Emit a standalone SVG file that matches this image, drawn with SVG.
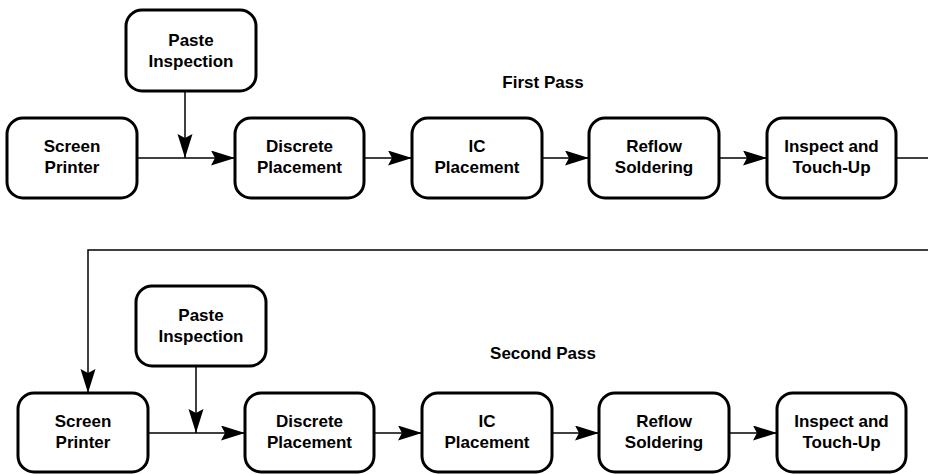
<svg xmlns="http://www.w3.org/2000/svg" width="928" height="474" viewBox="0 0 928 474">
<defs>
<marker id="arr" markerUnits="userSpaceOnUse" markerWidth="24" markerHeight="16" refX="24" refY="7.5" orient="auto">
<path d="M0,0 L24,7.5 L0,15 L4,7.5 z" fill="#000"/>
</marker>
<style>
.box{fill:#fff;stroke:#000;stroke-width:3}
.t{font-family:"Liberation Sans",Arial,Helvetica,sans-serif;font-weight:bold;font-size:17px;text-anchor:middle;fill:#000}
.c{fill:none;stroke:#000;stroke-width:1.5}
.a{marker-end:url(#arr)}
</style>
</defs>
<rect width="928" height="474" fill="#fff"/>
<text class="t" x="543" y="88">First Pass</text>
<text class="t" x="543" y="359">Second Pass</text>
<g id="connectors">
<line class="c a" x1="137" y1="158" x2="235" y2="158"/>
<line class="c a" x1="185" y1="91" x2="185" y2="158"/>
<line class="c a" x1="364" y1="158" x2="412" y2="158"/>
<line class="c a" x1="542" y1="158" x2="589" y2="158"/>
<line class="c a" x1="719" y1="158" x2="767" y2="158"/>
<line class="c" x1="896" y1="158" x2="928" y2="158"/>
<polyline class="c a" points="928,250 88,250 88,393"/>
<line class="c a" x1="148" y1="433" x2="245" y2="433"/>
<line class="c a" x1="196" y1="366" x2="196" y2="433"/>
<line class="c a" x1="374" y1="433" x2="422" y2="433"/>
<line class="c a" x1="552" y1="433" x2="599" y2="433"/>
<line class="c a" x1="729" y1="433" x2="777" y2="433"/>
</g>
<g id="paste1"><rect class="box" x="126" y="10" width="130" height="81" rx="16"/><text class="t" x="191" y="46">Paste</text><text class="t" x="191" y="67">Inspection</text></g>
<g id="screen1"><rect class="box" x="7" y="118" width="130" height="80" rx="16"/><text class="t" x="72" y="152">Screen</text><text class="t" x="72" y="173">Printer</text></g>
<g id="discrete1"><rect class="box" x="235" y="118" width="129" height="80" rx="16"/><text class="t" x="299.5" y="152">Discrete</text><text class="t" x="299.5" y="173">Placement</text></g>
<g id="ic1"><rect class="box" x="412" y="118" width="130" height="80" rx="16"/><text class="t" x="477" y="152">IC</text><text class="t" x="477" y="173">Placement</text></g>
<g id="reflow1"><rect class="box" x="589" y="118" width="130" height="80" rx="16"/><text class="t" x="654" y="152">Reflow</text><text class="t" x="654" y="173">Soldering</text></g>
<g id="inspect1"><rect class="box" x="767" y="118" width="129" height="80" rx="16"/><text class="t" x="831.5" y="152">Inspect and</text><text class="t" x="831.5" y="173">Touch-Up</text></g>
<g id="paste2"><rect class="box" x="136" y="286" width="130" height="80" rx="16"/><text class="t" x="201" y="321">Paste</text><text class="t" x="201" y="342">Inspection</text></g>
<g id="screen2"><rect class="box" x="18" y="393" width="130" height="79" rx="16"/><text class="t" x="83" y="427">Screen</text><text class="t" x="83" y="448">Printer</text></g>
<g id="discrete2"><rect class="box" x="245" y="393" width="129" height="79" rx="16"/><text class="t" x="309.5" y="427">Discrete</text><text class="t" x="309.5" y="448">Placement</text></g>
<g id="ic2"><rect class="box" x="422" y="393" width="130" height="79" rx="16"/><text class="t" x="487" y="427">IC</text><text class="t" x="487" y="448">Placement</text></g>
<g id="reflow2"><rect class="box" x="599" y="393" width="130" height="79" rx="16"/><text class="t" x="664" y="427">Reflow</text><text class="t" x="664" y="448">Soldering</text></g>
<g id="inspect2"><rect class="box" x="777" y="393" width="129" height="79" rx="16"/><text class="t" x="841.5" y="427">Inspect and</text><text class="t" x="841.5" y="448">Touch-Up</text></g>
</svg>
